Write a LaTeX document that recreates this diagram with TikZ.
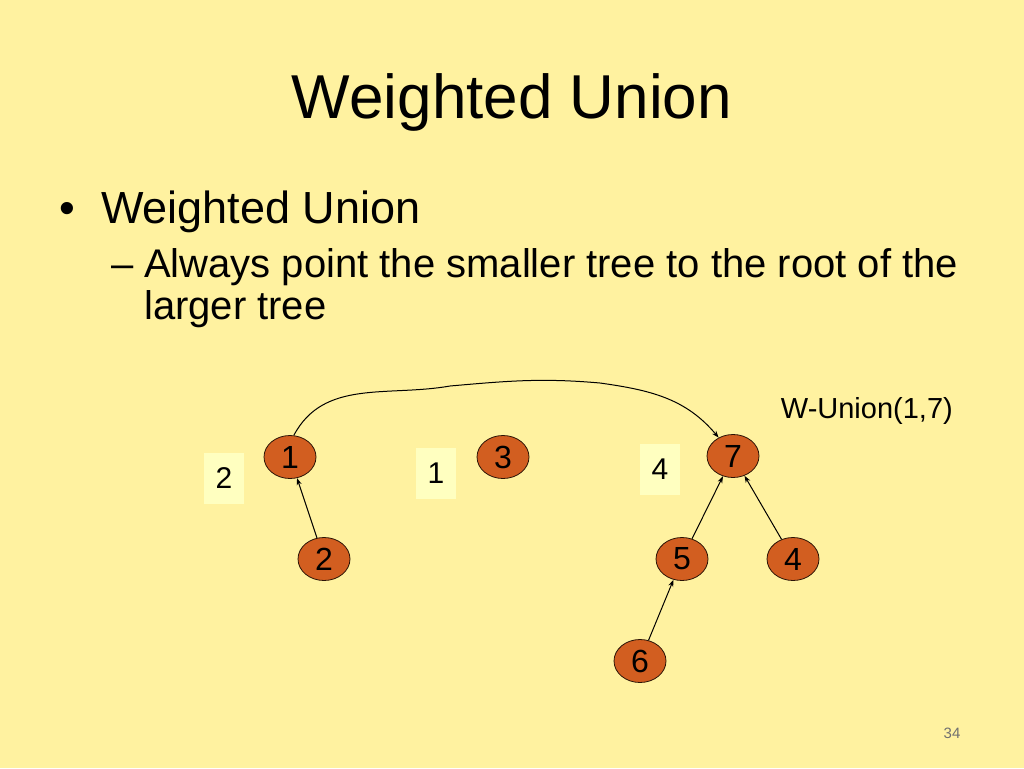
\documentclass[tikz,border=0pt]{standalone}
\usepackage{fontspec}
\setmainfont{Liberation Sans}
\usetikzlibrary{shapes.geometric,arrows.meta}
\definecolor{SlideBg}{RGB}{255,242,160}
\definecolor{NodeFill}{RGB}{210,94,32}
\definecolor{BoxFill}{RGB}{255,255,192}
\definecolor{PageGray}{RGB}{112,112,112}
\newcommand\FontPx[1]{\fontsize{#1}{#1}\selectfont}
\tikzset{
    treenode/.style={ellipse,draw=black!80!NodeFill,line width=0.8pt,fill=NodeFill,
        minimum width=52pt,minimum height=43pt,inner sep=0pt,font=\FontPx{32}},
    sizebox/.style={fill=BoxFill,minimum width=40pt,minimum height=51pt,inner sep=0pt,font=\FontPx{30}},
    pointer/.style={-{Stealth[length=7pt,width=5pt]},line width=1pt},
}

\begin{document}
\begin{tikzpicture}[x=1pt,y=1pt]
    \fill[SlideBg] (0,0) rectangle (1024,-768);
    \useasboundingbox (0,0) rectangle (1024,-768);
    \node[anchor=base,font=\FontPx{62}] (Title) at (512,-118) {Weighted Union};
    \node[anchor=base west,font=\FontPx{45},inner sep=0pt] (Dot) at (59,-223) {•};
    \node[anchor=base west,font=\FontPx{45},inner sep=0pt] (Item) at (101,-223) {Weighted Union};
    \node[anchor=base west,font=\FontPx{40},inner sep=0pt] (Dash) at (111,-277) {–};
    \node[anchor=base west,font=\FontPx{40},inner sep=0pt] (SubA) at (144,-277) {Always point the smaller tree to the root of the};
    \node[anchor=base west,font=\FontPx{40},inner sep=0pt] (SubB) at (144,-319) {larger tree};
    \node[anchor=base east,font=\FontPx{29},inner sep=0pt] (Op) at (953,-418) {W-Union(1,7)};
    \node[anchor=base,font=\FontPx{15},text=PageGray,inner sep=0pt] (Page) at (952,-738) {34};

    \node[sizebox] (W1) at (224,-478) {2};
    \node[sizebox] (W3) at (436,-473) {1};
    \node[sizebox] (W7) at (660,-469) {4};

    \node[treenode] (N1) at (290,-457) {1};
    \node[treenode] (N2) at (324,-559) {2};
    \node[treenode] (N3) at (503,-457) {3};
    \node[treenode] (N7) at (733,-456) {7};
    \node[treenode] (N5) at (682,-559) {5};
    \node[treenode] (N4) at (793,-559) {4};
    \node[treenode] (N6) at (640,-661) {6};

    \draw[pointer] (N2) -- (N1);
    \draw[pointer] (N5) -- (N7);
    \draw[pointer] (N4) -- (N7);
    \draw[pointer] (N6) -- (N5);
    \draw[pointer] (N1.80) to[out=62,in=190] (450,-386) to[out=5,in=175] (600,-383) to[out=-8,in=130] (N7.128);
\end{tikzpicture}
\end{document}
